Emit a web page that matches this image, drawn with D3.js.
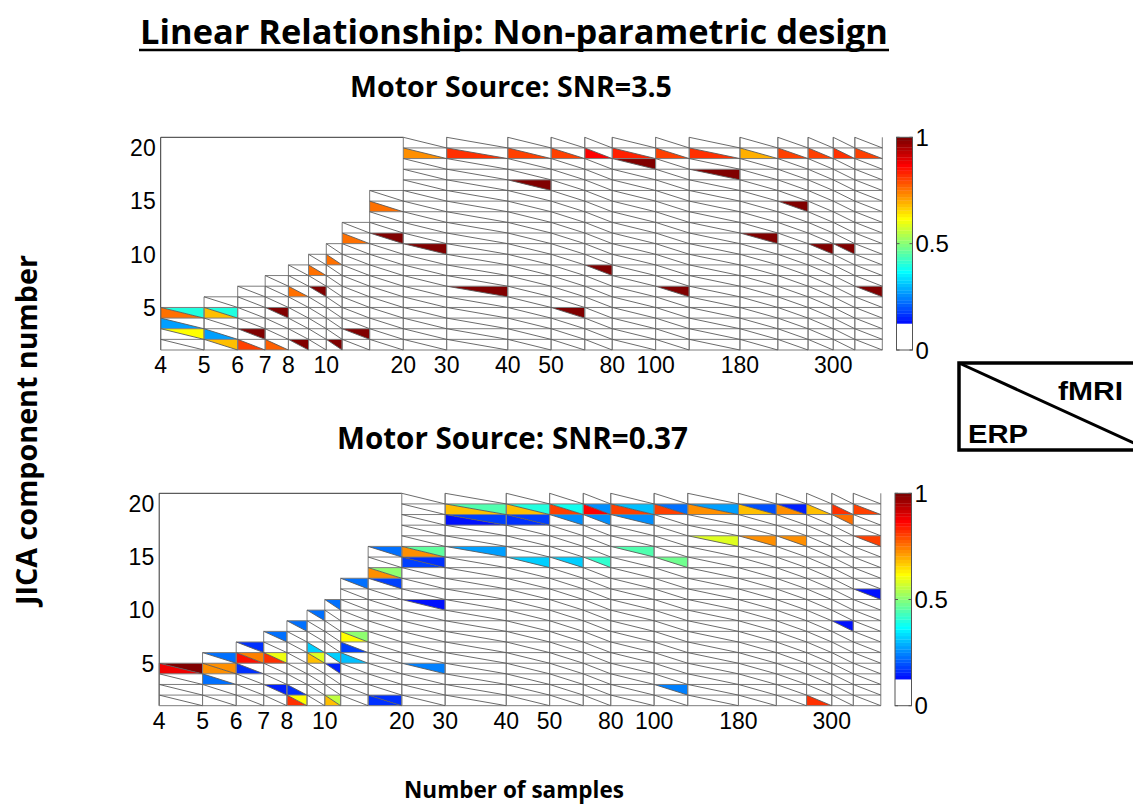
<!DOCTYPE html>
<html><head><meta charset="utf-8">
<script src="https://cdn.jsdelivr.net/npm/d3@7"></script>
<style>body{margin:0;background:#fff} svg{display:block}</style>
</head><body>
<svg id="chart" width="1133" height="805"></svg>
<script>
// Each column is one sample size; the column for n covers [previous n, n] on a log axis that starts at 3.
const axisStart = 3;
const sampleSizes = [4,5,6,7,8,9,10,12,15,20,30,40,50,60,80,100,140,180,220,260,300,360];
const sampleTicks = [4,5,6,7,8,10,20,30,40,50,80,100,180,300];
const componentTicks = [5,10,15,20];
const maxComponents = 20;
const colorbarTicks = [0,0.5,1];

// Detection rate per [number of samples, JICA component, value]
// SNR = 3.5
const highErp = [
  [4,4,0.75],[4,3,0.28],[5,4,0.68],[5,2,0.28],[6,1,0.8],[7,1,0.78],[8,6,0.76],[9,8,0.76],
  [10,9,0.76],[12,11,0.76],[15,14,0.76],[20,19,0.72],[30,19,0.82],[40,19,0.8],[50,19,0.8],
  [60,19,0.86],[80,19,0.83],[100,19,0.8],[140,19,0.82],[180,19,0.7],[220,19,0.8],[260,19,0.8],
  [300,19,0.82],[360,19,0.8]
];
const highFmri = [
  [4,4,0.4],[4,2,0.62],[5,4,0.4],[5,1,0.68],[6,2,1],[7,4,1],[8,1,1],[9,6,1],[10,1,1],[12,2,1],
  [15,11,1],[20,10,1],[30,6,1],[40,16,1],[50,4,1],[60,8,1],[80,18,1],[100,6,1],[140,17,1],
  [180,11,1],[220,14,1],[260,10,1],[300,10,1],[360,6,1]
];
// SNR = 0.37
const lowErp = [
  [4,4,0.88],[5,4,0.73],[5,3,0.22],[6,5,0.85],[6,4,0.17],[7,5,0.82],[8,2,0.16],[8,1,0.82],
  [9,6,0.32],[9,5,0.68],[10,1,0.68],[12,7,0.62],[12,6,0.18],[12,5,0.3],[15,13,0.72],[15,1,0.17],
  [20,15,0.72],[20,14,0.18],[30,19,0.68],[30,18,0.14],[40,19,0.68],[40,18,0.16],[50,19,0.8],
  [60,19,0.87],[80,19,0.8],[100,19,0.8],[140,19,0.72],[180,19,0.68],[220,19,0.72],[260,19,0.68],
  [300,19,0.82],[360,19,0.8],[260,1,0.82]
];
const lowFmri = [
  [4,4,1],[5,5,0.22],[5,4,0.73],[6,6,0.16],[6,5,0.74],[7,7,0.22],[7,5,0.6],[7,2,0.15],
  [8,8,0.22],[8,1,0.62],[9,9,0.22],[9,5,0.58],[10,10,0.22],[10,5,0.32],[10,4,0.15],[10,1,0.55],
  [12,12,0.22],[12,7,0.5],[15,15,0.22],[15,13,0.5],[15,12,0.18],[15,1,0.17],[20,15,0.46],
  [20,14,0.16],[20,10,0.13],[20,4,0.24],[30,19,0.45],[30,18,0.18],[30,15,0.27],[40,19,0.4],
  [40,18,0.18],[40,14,0.32],[50,19,0.38],[50,18,0.25],[50,14,0.32],[60,19,0.25],[60,18,0.25],
  [60,14,0.42],[80,19,0.3],[80,18,0.25],[80,15,0.45],[100,19,0.22],[100,14,0.47],[100,2,0.24],
  [140,19,0.27],[140,16,0.58],[180,19,0.2],[180,16,0.72],[220,19,0.15],[220,16,0.73],
  [300,18,0.75],[300,8,0.14],[360,16,0.8],[360,11,0.13]
];

const svg = d3.select("#chart");
const tickFont = "'Liberation Sans', Arial, sans-serif";
const titleFont = "'Open Sans', Lato, sans-serif";

// scale a text's font size so that it spans the given width
function fitWidth(sel, width) {
  const size = +sel.attr("font-size");
  const w = sel.node().getComputedTextLength();
  if (w > 0) sel.attr("font-size", size * width / w);
  return sel;
}

// MATLAB-style jet colormap, lowest eighth shown as white
function jet(m) {
  const n = Math.ceil(m / 4);
  const u = [];
  for (let i = 1; i <= n; i++) u.push(i / n);
  for (let i = 1; i < n; i++) u.push(1);
  for (let i = n; i >= 1; i--) u.push(i / n);
  const g0 = Math.ceil(n / 2) - (m % 4 === 1 ? 1 : 0);
  const J = Array.from({length: m}, () => [0, 0, 0]);
  u.forEach((val, i) => {
    const g = g0 + i + 1, r = g + n, b = g - n;
    if (r >= 1 && r <= m) J[r - 1][0] = val;
    if (g >= 1 && g <= m) J[g - 1][1] = val;
    if (b >= 1 && b <= m) J[b - 1][2] = val;
  });
  return J;
}
const levels = 64;
const cmap = jet(levels).map((c, i) => i < levels / 8 ? "#ffffff" : d3.rgb(c[0] * 255, c[1] * 255, c[2] * 255).formatHex());
const colorOf = v => cmap[Math.min(levels - 1, Math.max(0, Math.floor(v * levels)))];

const columns = sampleSizes.map((n, i) => ({n, prev: i ? sampleSizes[i - 1] : axisStart, rows: Math.min(n, maxComponents)}));
const colByN = new Map(columns.map(c => [c.n, c]));

function drawPanel(p) {
  const x = d3.scaleLog().domain([axisStart, sampleSizes[sampleSizes.length - 1]]).range([p.left, p.right]);
  const y = d3.scaleLinear().domain([1, maxComponents + 1]).range([p.bottom, p.top]);
  const g = svg.append("g");

  const corners = (d) => {
    const c = colByN.get(d[0]);
    return {x0: x(c.prev), x1: x(c.n), yb: y(d[1]), yt: y(d[1] + 1)};
  };
  // ERP: lower-left triangle, fMRI: upper-right triangle
  g.append("g").selectAll("polygon").data(p.erp).join("polygon")
    .attr("points", d => { const q = corners(d); return [[q.x0, q.yt], [q.x0, q.yb], [q.x1, q.yb]].join(" "); })
    .attr("fill", d => colorOf(d[2]));
  g.append("g").selectAll("polygon").data(p.fmri).join("polygon")
    .attr("points", d => { const q = corners(d); return [[q.x0, q.yt], [q.x1, q.yt], [q.x1, q.yb]].join(" "); })
    .attr("fill", d => colorOf(d[2]));

  // axes box (top edge only where the grid does not reach the top)
  const firstFull = columns.find(c => c.rows === maxComponents);
  const axisLines = [
    [p.left, y(1), p.left, y(maxComponents + 1)],
    [p.left, y(maxComponents + 1), x(firstFull.prev), y(maxComponents + 1)]
  ];
  g.append("g").selectAll("line").data(axisLines).join("line")
    .attr("x1", d => d[0]).attr("y1", d => d[1]).attr("x2", d => d[2]).attr("y2", d => d[3])
    .attr("stroke", "#333").attr("stroke-width", 1);

  // cell outlines and diagonals
  const grid = [], diag = [];
  columns.forEach(c => {
    const x0 = x(c.prev), x1 = x(c.n);
    for (let k = 1; k <= c.rows + 1; k++) {
      if (k === maxComponents + 1) continue;
      grid.push([x0, y(k), x1, y(k)]);
    }
    grid.push([x0, y(1), x0, y(c.rows + 1)]);
    grid.push([x1, y(1), x1, y(c.rows + 1)]);
    for (let k = 1; k <= c.rows; k++) diag.push([x0, y(k + 1), x1, y(k)]);
  });
  g.append("g").selectAll("line").data(grid).join("line")
    .attr("x1", d => d[0]).attr("y1", d => d[1]).attr("x2", d => d[2]).attr("y2", d => d[3])
    .attr("stroke", "#7c7c7c").attr("stroke-width", 1);
  g.append("g").selectAll("line").data(diag).join("line")
    .attr("x1", d => d[0]).attr("y1", d => d[1]).attr("x2", d => d[2]).attr("y2", d => d[3])
    .attr("stroke", "#5a5a5a").attr("stroke-width", 0.9);

  // tick labels: each sample label sits at the left edge of its column
  g.append("g").selectAll("text").data(sampleTicks).join("text")
    .attr("x", n => x(colByN.get(n).prev)).attr("y", p.bottom + 23)
    .attr("text-anchor", "middle").attr("font-family", tickFont).attr("font-size", 23)
    .text(n => n);
  g.append("g").selectAll("text").data(componentTicks).join("text")
    .attr("x", p.left - 5).attr("y", k => y(k)).attr("dy", "0.36em")
    .attr("text-anchor", "end").attr("font-family", tickFont).attr("font-size", 23)
    .text(k => k);

  // subtitle
  const st = svg.append("text").attr("x", p.titleX).attr("y", p.titleY).attr("text-anchor", "middle")
    .attr("font-family", titleFont).attr("font-weight", 700).attr("font-size", 24)
    .text(p.title);
  fitWidth(st, p.titleW);

  // colorbar
  const cb = p.cbar;
  const yc = d3.scaleLinear().domain([0, 1]).range([p.bottom, p.top]);
  const cg = svg.append("g");
  cg.selectAll("rect").data(d3.range(levels)).join("rect")
    .attr("x", cb.x).attr("width", cb.w)
    .attr("y", i => yc((i + 1) / levels)).attr("height", i => yc(i / levels) - yc((i + 1) / levels) + 0.3)
    .attr("fill", i => cmap[i]);
  cg.append("rect").attr("x", cb.x).attr("y", p.top).attr("width", cb.w).attr("height", p.bottom - p.top)
    .attr("fill", "none").attr("stroke", "#555").attr("stroke-width", 1);
  cg.selectAll("line.tk").data(colorbarTicks).join("line").attr("class", "tk")
    .attr("x1", cb.x).attr("x2", cb.x + 3).attr("y1", yc).attr("y2", yc).attr("stroke", "#555");
  cg.selectAll("line.tk2").data(colorbarTicks).join("line").attr("class", "tk2")
    .attr("x1", cb.x + cb.w - 3).attr("x2", cb.x + cb.w).attr("y1", yc).attr("y2", yc).attr("stroke", "#555");
  cg.selectAll("text").data(colorbarTicks).join("text")
    .attr("x", cb.x + cb.w + 3).attr("y", yc).attr("dy", "0.36em")
    .attr("font-family", tickFont).attr("font-size", 24).text(d => d);
}

drawPanel({title: "Motor Source: SNR=3.5", titleX: 511, titleY: 97, titleW: 322, erp: highErp, fmri: highFmri,
  left: 160.7, right: 882.3, top: 137.3, bottom: 350, cbar: {x: 896.5, w: 16}});
drawPanel({title: "Motor Source: SNR=0.37", titleX: 512.5, titleY: 449, titleW: 351, erp: lowErp, fmri: lowFmri,
  left: 159.2, right: 880.8, top: 493.3, bottom: 705.7, cbar: {x: 895, w: 16.5}});

// main title (underlined)
const title = svg.append("text").attr("x", 514).attr("y", 44).attr("text-anchor", "middle")
  .attr("font-family", titleFont).attr("font-weight", 700).attr("font-size", 33)
  .text("Linear Relationship: Non-parametric design");
fitWidth(title, 748);
svg.append("line").attr("x1", 514 - 375).attr("x2", 514 + 375).attr("y1", 50).attr("y2", 50)
  .attr("stroke", "#000").attr("stroke-width", 2.6);

// axis titles
const yt = svg.append("text").attr("transform", "translate(37,430) rotate(-90)").attr("text-anchor", "middle")
  .attr("font-family", titleFont).attr("font-weight", 700).attr("font-size", 24)
  .text("JICA component number");
fitWidth(yt, 350);
const xt = svg.append("text").attr("x", 514).attr("y", 798).attr("text-anchor", "middle")
  .attr("font-family", titleFont).attr("font-weight", 700).attr("font-size", 24)
  .text("Number of samples");
fitWidth(xt, 220);

// key: cell split into ERP (lower-left) and fMRI (upper-right)
const key = svg.append("g");
key.append("rect").attr("x", 959).attr("y", 363).attr("width", 190).attr("height", 87)
  .attr("fill", "none").attr("stroke", "#000").attr("stroke-width", 3.5);
key.append("line").attr("x1", 959).attr("y1", 363).attr("x2", 1149).attr("y2", 450)
  .attr("stroke", "#000").attr("stroke-width", 3);
key.append("text").attr("x", 1058).attr("y", 400).attr("font-family", tickFont).attr("font-weight", 700)
  .attr("font-size", 26).attr("textLength", 65).attr("lengthAdjust", "spacingAndGlyphs").text("fMRI");
key.append("text").attr("x", 968).attr("y", 443).attr("font-family", tickFont).attr("font-weight", 700)
  .attr("font-size", 26).attr("textLength", 60).attr("lengthAdjust", "spacingAndGlyphs").text("ERP");
</script>
</body></html>
